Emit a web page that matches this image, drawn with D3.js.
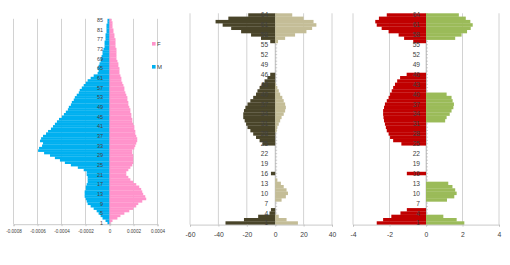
<!DOCTYPE html>
<html>
<head>
<meta charset="utf-8">
<script src="https://cdn.jsdelivr.net/npm/d3@7"></script>
<style>
  body { margin: 0; background: #fff; }
  svg { display: block; }
  text { font-family: "Liberation Sans", Arial, sans-serif; fill: #404040; }
</style>
</head>
<body>
<div id="chart"></div>
<script>
// ---- panel 1: population pyramid by age (share of total)
const ages = d3.range(1, 86);
const maleShare = [
  -0.000017, -0.000033, -0.000058, -0.000074, -0.000091, -0.000107, -0.000132, -0.000157, -0.000182, -0.000190,
  -0.000198, -0.000207, -0.000207, -0.000207, -0.000198, -0.000198, -0.000190, -0.000182, -0.000182, -0.000182,
  -0.000190, -0.000190, -0.000215, -0.000264, -0.000322, -0.000372, -0.000413, -0.000455, -0.000496, -0.000545,
  -0.000595, -0.000587, -0.000562, -0.000554, -0.000579, -0.000570, -0.000554, -0.000529, -0.000512, -0.000488,
  -0.000471, -0.000455, -0.000438, -0.000421, -0.000397, -0.000380, -0.000364, -0.000347, -0.000339, -0.000322,
  -0.000314, -0.000298, -0.000289, -0.000273, -0.000256, -0.000248, -0.000231, -0.000215, -0.000198, -0.000182,
  -0.000157, -0.000132, -0.000099, -0.000091, -0.000099, -0.000091, -0.000083, -0.000074, -0.000074, -0.000066,
  -0.000058, -0.000058, -0.000050, -0.000041, -0.000041, -0.000041, -0.000033, -0.000033, -0.000033, -0.000025,
  -0.000025, -0.000025, -0.000025, -0.000017, -0.000017
];
const femaleShare = [
  0.000008, 0.000025, 0.000066, 0.000091, 0.000124, 0.000165, 0.000198, 0.000223, 0.000240, 0.000273,
  0.000306, 0.000298, 0.000281, 0.000273, 0.000264, 0.000248, 0.000223, 0.000198, 0.000174, 0.000157,
  0.000140, 0.000140, 0.000157, 0.000174, 0.000190, 0.000198, 0.000198, 0.000198, 0.000198, 0.000190,
  0.000190, 0.000207, 0.000215, 0.000223, 0.000231, 0.000231, 0.000223, 0.000215, 0.000215, 0.000207,
  0.000207, 0.000198, 0.000190, 0.000190, 0.000182, 0.000182, 0.000174, 0.000174, 0.000165, 0.000157,
  0.000157, 0.000149, 0.000149, 0.000140, 0.000132, 0.000124, 0.000124, 0.000116, 0.000107, 0.000099,
  0.000099, 0.000091, 0.000083, 0.000083, 0.000083, 0.000074, 0.000074, 0.000066, 0.000058, 0.000058,
  0.000058, 0.000058, 0.000058, 0.000050, 0.000050, 0.000050, 0.000050, 0.000041, 0.000041, 0.000033,
  0.000033, 0.000025, 0.000025, 0.000025, 0.000017
];
const pyramidTicks = [-0.0008, -0.0006, -0.0004, -0.0002, 0, 0.0002, 0.0004];
const pyramidTickLabels = ["-0.0008", "-0.0006", "-0.0004", "-0.0002", "0", "0.0002", "0.0004"];
const pyramidLegend = ["F", "M"];

// ---- panels 2 and 3: 64 groups
const groups = d3.range(1, 65);
const darkVals = [
  -35, -22, -12, -4, -3, 0, 0, 0, 0, 0,
  0, 0, 0, 0, 0, -3, 0, 0, 0, 0,
  0, 0, 0, 0, -9, -11, -13.5, -15.5, -17.5, -19.5,
  -20.5, -21.5, -22.5, -22.5, -22, -21, -19.5, -17.5, -15.5, -13.5,
  -12.5, -11, -9.5, -7.5, -5.5, -3.5, 0, 0, 0, 0,
  0, 0, 0, 0, 0, -3.5, -10, -17, -24, -31,
  -37, -42, -33, -19
];
const tanVals = [
  16, 8, 2.5, 0, 0, 0, 0, 4.5, 7.5, 9,
  8, 6, 4, 1.5, 0, 0, 0, 0, 0, 0,
  0, 0, 0, 0, 0, 0, 0, 0, 1, 1.5,
  2.5, 3.5, 4.5, 6, 7, 7.5, 7, 6, 5, 3.5,
  2.5, 1.5, 0.5, 0, 0, 0, 0, 0, 0, 0,
  0, 0, 0, 0, 0, 2, 7, 14, 22, 26,
  29, 27, 20, 12
];
const midTicks = [-60, -40, -20, 0, 20, 40];

const redVals = [
  -2.7, -2.35, -1.9, -1.4, -1.05, 0, 0, 0, 0, 0,
  0, 0, 0, 0, 0, -1.05, 0, 0, 0, 0,
  0, 0, 0, 0, -1.35, -1.8, -1.97, -2.05, -2.15, -2.2,
  -2.25, -2.3, -2.33, -2.35, -2.35, -2.3, -2.25, -2.15, -2.05, -1.97,
  -1.88, -1.8, -1.7, -1.58, -1.42, -1.06, 0, 0, 0, 0,
  0, 0, 0, 0, 0, -0.7, -1.2, -1.5, -2.05, -2.43,
  -2.7, -2.78, -2.58, -2.15
];
const greenVals = [
  2.1, 1.68, 0.95, 0, 0, 0, 0, 1.15, 1.55, 1.68,
  1.6, 1.45, 1.22, 0, 0, 0, 0, 0, 0, 0,
  0, 0, 0, 0, 0, 0, 0, 0, 0, 0,
  0, 1.05, 1.13, 1.3, 1.4, 1.5, 1.53, 1.46, 1.4, 1.13,
  0, 0, 0, 0, 0, 0, 0, 0, 0, 0,
  0, 0, 0, 0, 0, 0, 1.6, 1.95, 2.25, 2.45,
  2.56, 2.43, 2.18, 1.8
];
const rightTicks = [-4, -2, 0, 2, 4];

const svg = d3.select("#chart").append("svg")
  .attr("width", 510)
  .attr("height", 265);

svg.append("rect").attr("width", 510).attr("height", 265).attr("fill", "#fff");

function drawPanel(opts) {
  const x = d3.scaleLinear().domain(opts.domain).range(opts.xRange);
  const y = d3.scaleBand()
    .domain(opts.cats.slice().reverse())
    .range(opts.yRange)
    .padding(0);
  const g = svg.append("g");

  // vertical gridlines
  g.selectAll(null)
    .data(opts.ticks)
    .enter()
    .append("line")
    .attr("x1", d => x(d)).attr("x2", d => x(d))
    .attr("y1", opts.yRange[0]).attr("y2", opts.yRange[1])
    .attr("stroke", "#c6c6c6")
    .attr("stroke-width", 0.8);

  // category axis at zero (mostly hidden under the bars)
  const yAxis = d3.axisRight(y).tickSize(2).tickFormat("");
  g.append("g")
    .attr("transform", `translate(${x(0)},0)`)
    .call(yAxis)
    .call(a => a.selectAll("path,line").attr("stroke", "#b0b0b0").attr("stroke-width", 0.6));

  // bars, one series at a time
  opts.series.forEach(s => {
    g.selectAll(null)
      .data(opts.cats.map((c, i) => ({ c: c, v: s.values[i] })).filter(d => d.v !== 0))
      .enter()
      .append("rect")
      .attr("x", d => x(Math.min(0, d.v)))
      .attr("width", d => Math.abs(x(d.v) - x(0)))
      .attr("y", d => y(d.c))
      .attr("height", y.bandwidth() + 0.2)
      .attr("fill", s.color);
  });

  // bottom value axis
  const xAxis = d3.axisBottom(x)
    .tickValues(opts.ticks)
    .tickFormat((d, i) => opts.tickLabels[i])
    .tickSize(2)
    .tickPadding(opts.tickPad);
  g.append("g")
    .attr("transform", `translate(0,${opts.yRange[1]})`)
    .call(xAxis)
    .call(a => a.selectAll("path,line").attr("stroke", "#bdbdbd").attr("stroke-width", 0.8))
    .call(a => a.selectAll("text")
      .style("font-size", opts.tickFont + "px")
      .attr("fill", "#404040")
      .style("font-family", "'Liberation Sans', Arial, sans-serif"));

  // category labels, left of the zero line, on top of the bars
  g.selectAll(null)
    .data(opts.cats.filter(c => (c - 1) % opts.labelStep === 0))
    .enter()
    .append("text")
    .attr("x", x(0) - opts.labelGap)
    .attr("y", d => y(d) + y.bandwidth() / 2)
    .attr("text-anchor", "end")
    .attr("dominant-baseline", "central")
    .style("font-size", opts.catFont + "px")
    .attr("fill", "#262626")
    .text(d => d);

  return { x: x, y: y };
}

drawPanel({
  cats: ages,
  domain: [-0.0008, 0.0004],
  xRange: [13.5, 157.5],
  yRange: [18.8, 224.2],
  ticks: pyramidTicks,
  tickLabels: pyramidTickLabels,
  tickPad: 4,
  tickFont: 4.6,
  labelStep: 4,
  labelGap: 6.5,
  catFont: 5.4,
  series: [
    { values: maleShare, color: "#00b0f0" },
    { values: femaleShare, color: "#ff93cb" }
  ]
});

// legend of panel 1
const legendColors = ["#ff93cb", "#00b0f0"];
const legend = svg.append("g")
  .selectAll("g")
  .data(pyramidLegend)
  .enter()
  .append("g")
  .attr("transform", (d, i) => `translate(152,${42 + i * 23})`);
legend.append("rect")
  .attr("width", 3.6).attr("height", 3.6)
  .attr("fill", (d, i) => legendColors[i]);
legend.append("text")
  .attr("x", 5).attr("y", 1.8)
  .attr("dominant-baseline", "central")
  .style("font-size", "6px")
  .attr("fill", "#404040")
  .text(d => d);

drawPanel({
  cats: groups,
  domain: [-60, 40],
  xRange: [190, 332],
  yRange: [13.3, 224.6],
  ticks: midTicks,
  tickLabels: midTicks.map(String),
  tickPad: 5.5,
  tickFont: 6.8,
  labelStep: 3,
  labelGap: 7,
  catFont: 6.6,
  series: [
    { values: darkVals, color: "#494429" },
    { values: tanVals, color: "#c4bd97" }
  ]
});

drawPanel({
  cats: groups,
  domain: [-4, 4],
  xRange: [353, 499],
  yRange: [13.3, 224.6],
  ticks: rightTicks,
  tickLabels: rightTicks.map(String),
  tickPad: 5.5,
  tickFont: 6.8,
  labelStep: 3,
  labelGap: 6,
  catFont: 6.6,
  series: [
    { values: redVals, color: "#c00000" },
    { values: greenVals, color: "#9bbb59" }
  ]
});
</script>
</body>
</html>
